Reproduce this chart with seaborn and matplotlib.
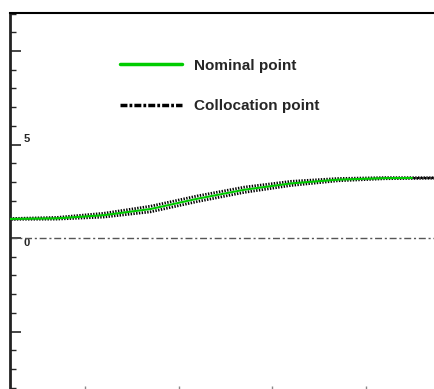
import numpy as np
import pandas as pd
import matplotlib
matplotlib.use("Agg")
import matplotlib.pyplot as plt
import seaborn as sns

# values
x_nom = [0.2, 0.7, 1.2, 1.7, 2.2, 2.7, 3.2, 3.7, 4.2, 4.49]
y_nom = [1.02, 1.05, 1.22, 1.55, 2.10, 2.58, 2.92, 3.12, 3.20, 3.21]

# collocation curves (upper / lower edge of the band)
x_col = [0.2, 0.7, 1.2, 1.7, 2.2, 2.7, 3.2, 3.7, 4.2, 4.75]
y_col_hi = [1.04, 1.10, 1.32, 1.70, 2.25, 2.72, 3.03, 3.18, 3.23, 3.22]
y_col_lo = [1.00, 1.01, 1.12, 1.40, 1.95, 2.44, 2.81, 3.06, 3.17, 3.20]

y_major = [-5, 0, 5, 10]
y_labels = ["", "0", "5", ""]
x_major = [1, 2, 3, 4]

sns.set_style("ticks")
plt.rcParams["font.family"] = ["Liberation Sans", "DejaVu Sans"]
plt.rcParams["lines.scale_dashes"] = False

W, H = 434, 389
fig = plt.figure(figsize=(W / 100, H / 100), dpi=100)
# axes runs past the right and bottom edges of the picture
left, top, right, bottom = 10, 13, 437, 393
ax = fig.add_axes([left / W, 1 - bottom / H, (right - left) / W, (bottom - top) / H])

px_per_unit = 18.7
ax.set_ylim(-(bottom - 238) / px_per_unit, (238 - top) / px_per_unit)
ax.set_xlim(0.2, 0.2 + (right - left) / 93.7)

# zero reference line
ax.axhline(0, color="#555555", lw=1, ls=(0, (5, 2, 1.5, 2)), zorder=1)

col = pd.DataFrame({"x": x_col * 2,
                    "y": y_col_hi + y_col_lo,
                    "run": ["hi"] * len(x_col) + ["lo"] * len(x_col)})
offsets = {"hi": 0, "lo": 1}
for name, g in col.groupby("run", sort=False):
    sns.lineplot(data=g, x="x", y="y", ax=ax, color="black", lw=2.0,
                 ls=(offsets[name], (1, 1)),
                 label="Collocation point" if name == "hi" else None,
                 zorder=2, estimator=None, sort=False)

sns.lineplot(x=x_nom, y=y_nom, ax=ax, color="#00cc00", lw=1.5, label="Nominal point",
             zorder=3, estimator=None)

# legend: nominal first, collocation second
handles, labels = ax.get_legend_handles_labels()
order = [labels.index("Nominal point"), labels.index("Collocation point")]
leg = ax.legend([handles[i] for i in order], [labels[i] for i in order],
                loc="upper left", bbox_to_anchor=(112 / W, 1 - 51 / H),
                bbox_transform=fig.transFigure, frameon=False, borderpad=0,
                handlelength=4.1, handletextpad=0.8, labelspacing=1.75,
                prop={"weight": "bold", "size": 11})
leg_lines = leg.get_lines()
leg_lines[0].set_linewidth(2.5)
leg_lines[1].set_linewidth(2.5)
leg_lines[1].set_linestyle((0, (5, 1.5, 2, 1.5)))

ax.set_yticks(y_major, y_labels)
ax.set_yticks(np.arange(-8, 13, 1), minor=True)
ax.set_xticks(x_major, [""] * len(x_major))
ax.tick_params(axis="y", which="major", direction="in", length=8, width=1.2,
               pad=-14, labelsize=8)
ax.tick_params(axis="y", which="minor", direction="in", length=4, width=1)
ax.tick_params(axis="x", which="major", direction="in", length=5, width=1, color="#888888")
for t in ax.get_yticklabels():
    t.set_fontweight("bold")
    t.set_verticalalignment("bottom" if t.get_text() == "5" else "top")

ax.spines["left"].set_linewidth(2)
ax.spines["left"].set_color("#222222")
ax.spines["top"].set_linewidth(1.5)
ax.spines["top"].set_color("black")
ax.set_xlabel("")
ax.set_ylabel("")

fig.savefig("out.png", dpi=100)
